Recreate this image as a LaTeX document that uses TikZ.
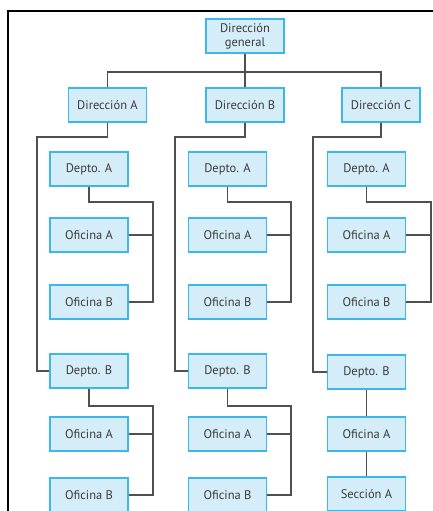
\documentclass[tikz,border=0pt]{standalone}
\usepackage{fontspec}
\setmainfont{PT Sans}
\definecolor{boxfill}{HTML}{D5ECF9}
\definecolor{boxline}{HTML}{3BB7E9}
\definecolor{linkgray}{HTML}{505050}
\definecolor{txtgray}{HTML}{3C3C3C}
\begin{document}
\begin{tikzpicture}[x=1pt,y=-1pt,
  unit/.style={draw=boxline, fill=boxfill, line width=1.3pt, minimum width=78pt,
    minimum height=34pt, inner sep=0pt, text=txtgray, font=\fontsize{12.5}{14}\selectfont,
    align=center},
  link/.style={draw=linkgray, line width=1.2pt}]
\useasboundingbox (0,0) rectangle (433,511);
% outer frame
\draw[line width=2pt] (7.5,520) -- (7.5,11) -- (440,11);

% top levels
\node[unit] (dg) at (245,36) {Dirección\\general};
\node[unit] (da) at (107.5,105) {Dirección A};
\node[unit] (db) at (245,105) {Dirección B};
\node[unit] (dc) at (381,105) {Dirección C};

% column A
\node[unit] (aDA) at (89,169) {Depto. A};
\node[unit] (aOA1) at (89,235) {Oficina A};
\node[unit] (aOB1) at (89,302) {Oficina B};
\node[unit] (aDB) at (89,371) {Depto. B};
\node[unit] (aOA2) at (89,434) {Oficina A};
\node[unit] (aOB2) at (89,495) {Oficina B};

% column B
\node[unit] (bDA) at (227.5,169) {Depto. A};
\node[unit] (bOA1) at (227.5,235) {Oficina A};
\node[unit] (bOB1) at (227.5,302) {Oficina B};
\node[unit] (bDB) at (227.5,371) {Depto. B};
\node[unit] (bOA2) at (227.5,434) {Oficina A};
\node[unit] (bOB2) at (227.5,495) {Oficina B};

% column C
\node[unit] (cDA) at (366.5,169) {Depto. A};
\node[unit] (cOA1) at (366.5,235) {Oficina A};
\node[unit] (cOB1) at (366.5,302) {Oficina B};
\node[unit] (cDB) at (366.5,372) {Depto. B};
\node[unit] (cOA2) at (366.5,434) {Oficina A};
\node[unit] (cSA) at (366.5,494) {Sección A};

% turning points of the connectors
\coordinate (bar) at (0,72);
\coordinate (aL) at (37,137);   \coordinate (bL) at (175,137);  \coordinate (cL) at (313,137);
\coordinate (aR1) at (153,202); \coordinate (bR1) at (291,202); \coordinate (cR1) at (431,202);
\coordinate (aR2) at (153,406); \coordinate (bR2) at (291,406);

% general direction to the three directions
\draw[link] (dg.south) -- (db.north);
\draw[link] (da.north) -- (da.north |- bar) -- (dc.north |- bar) -- (dc.north);

% directions to their Depto. B
\draw[link] (da.south) |- (aL) |- (aDB.west);
\draw[link] (db.south) |- (bL) |- (bDB.west);
\draw[link] (dc.south) |- (cL) |- (cDB.west);

% Depto. A to its offices
\draw[link] (aDA.south) |- (aR1) |- (aOB1.east);
\draw[link] (aOA1.east) -- (aOA1.east -| aR1);
\draw[link] (bDA.south) |- (bR1) |- (bOB1.east);
\draw[link] (bOA1.east) -- (bOA1.east -| bR1);
\draw[link] (cDA.south) |- (cR1) |- (cOB1.east);
\draw[link] (cOA1.east) -- (cOA1.east -| cR1);

% Depto. B to its offices
\draw[link] (aDB.south) |- (aR2) |- (aOB2.east);
\draw[link] (aOA2.east) -- (aOA2.east -| aR2);
\draw[link] (bDB.south) |- (bR2) |- (bOB2.east);
\draw[link] (bOA2.east) -- (bOA2.east -| bR2);
\draw[link] (cDB.south) -- (cOA2.north);
\draw[link] (cOA2.south) -- (cSA.north);
\end{tikzpicture}
\end{document}
